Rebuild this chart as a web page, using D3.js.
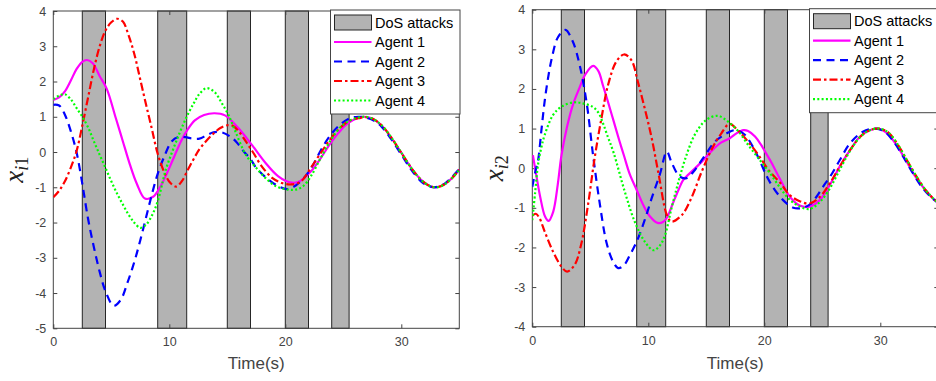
<!DOCTYPE html>
<html>
<head>
<meta charset="utf-8">
<script src="https://cdn.jsdelivr.net/npm/d3@7"></script>
<style>
  body { margin: 0; background: #fff; }
  svg { display: block; font-family: "Liberation Sans", Arial, sans-serif; }
</style>
</head>
<body>
<div id="chart"></div>
<script>
var width = 936, height = 381;

// ---- data ----
var timeTicks = [0, 10, 20, 30];
var x1Ticks = [-5, -4, -3, -2, -1, 0, 1, 2, 3, 4];
var x2Ticks = [-4, -3, -2, -1, 0, 1, 2, 3, 4];
var dosIntervals = [[2.5, 4.5], [9, 11.5], [15, 17], [20, 22], [24, 25.5]];
var legendNames = ["DoS attacks", "Agent 1", "Agent 2", "Agent 3", "Agent 4"];

// x_{i1}
var x1Agent1 = [[0,1.48],[0.5,1.55],[1,1.72],[1.5,2.02],[2,2.35],[2.5,2.56],[2.9,2.61],[3.4,2.52],[4,2.15],[4.6,1.8],[5.4,0.95],[6,0.3],[6.6,-0.35],[7.2,-0.9],[7.9,-1.32],[8.6,-1.27],[9.2,-1.0],[9.8,-0.6],[10.4,-0.15],[11,0.3],[11.6,0.65],[12.2,0.9],[13,1.05],[13.9,1.1],[14.8,1.04],[15.95,0.68],[17.1,0.21],[18.3,-0.31],[19.4,-0.69],[20.4,-0.86],[21.1,-0.85],[22.2,-0.55],[23,-0.2],[23.8,0.2],[24.6,0.55],[25.4,0.82],[26.2,0.96],[26.8,1.0],[27.5,0.95],[28.3,0.75],[29.1,0.42],[30,-0.02],[30.9,-0.47],[31.8,-0.82],[32.5,-0.97],[33.1,-1.0],[33.8,-0.9],[34.4,-0.73],[35,-0.5]];
var x1Agent2 = [[0,1.34],[0.5,1.32],[1,1.06],[1.5,0.6],[2,0.0],[2.5,-0.9],[3,-1.9],[3.5,-2.7],[4,-3.4],[4.5,-3.95],[5.2,-4.36],[5.8,-4.2],[6.4,-3.7],[7,-3.1],[7.5,-2.5],[8,-1.85],[8.5,-1.2],[9,-0.62],[9.6,-0.1],[10.2,0.3],[10.8,0.43],[11.4,0.42],[12,0.38],[12.6,0.38],[13.2,0.47],[13.8,0.56],[14.5,0.56],[15.2,0.45],[15.8,0.28],[16.4,0.02],[17,-0.2],[17.5,-0.45],[18.4,-0.74],[19.4,-0.97],[20.2,-1.05],[20.9,-0.95],[21.7,-0.7],[22.4,-0.36],[23.1,0.07],[23.8,0.44],[24.7,0.77],[25.6,0.96],[26.3,1.0],[27,0.97],[27.7,0.88],[28.3,0.72],[29.1,0.38],[30,-0.07],[30.9,-0.52],[31.8,-0.86],[32.5,-0.98],[33.1,-0.99],[33.8,-0.88],[34.4,-0.7],[35,-0.48]];
var x1Agent3 = [[0,-1.28],[0.5,-1.1],[1,-0.83],[1.5,-0.45],[2,0.02],[2.5,0.75],[3,1.55],[3.5,2.35],[4,3.0],[4.5,3.45],[5,3.68],[5.5,3.78],[6,3.7],[6.5,3.3],[7,2.76],[7.5,2.05],[8,1.34],[8.5,0.65],[9,-0.05],[9.6,-0.6],[10.1,-0.88],[10.6,-0.98],[11.1,-0.82],[11.6,-0.5],[12.1,-0.2],[12.6,0.08],[13.2,0.32],[13.8,0.52],[14.4,0.68],[15,0.76],[15.5,0.74],[16,0.58],[16.6,0.3],[17.2,0.0],[18,-0.42],[18.9,-0.74],[19.7,-0.88],[20.5,-0.92],[21.3,-0.85],[22.2,-0.45],[23.05,-0.03],[23.85,0.35],[24.7,0.68],[25.6,0.9],[26.5,0.97],[26.9,0.99],[27.5,0.95],[28.3,0.76],[29.1,0.43],[30,-0.02],[30.9,-0.47],[31.8,-0.82],[32.5,-0.97],[33.1,-1.0],[33.8,-0.9],[34.4,-0.73],[35,-0.5]];
var x1Agent4 = [[0,1.5],[0.5,1.6],[1,1.64],[1.5,1.5],[2,1.25],[2.5,1.0],[3,0.7],[3.5,0.3],[4,-0.08],[4.5,-0.45],[5,-0.83],[5.5,-1.18],[6,-1.49],[6.5,-1.78],[7,-2.01],[7.5,-2.15],[8,-2.06],[8.5,-1.8],[9,-1.4],[9.7,-0.5],[10.3,0.05],[10.9,0.55],[11.5,1.0],[12.1,1.38],[12.6,1.65],[13.2,1.81],[13.9,1.7],[14.5,1.4],[15.1,1.05],[15.7,0.58],[16.6,-0.08],[17.5,-0.45],[18.3,-0.74],[19.2,-0.97],[20.3,-1.07],[21,-1.06],[21.6,-0.95],[22.2,-0.69],[23.05,-0.17],[23.85,0.3],[24.7,0.68],[25.6,0.9],[26.5,0.99],[27,1.0],[27.5,0.95],[28.3,0.76],[29.1,0.43],[30,-0.02],[30.9,-0.47],[31.8,-0.82],[32.5,-0.97],[33.1,-1.0],[33.8,-0.9],[34.4,-0.73],[35,-0.5]];

// x_{i2}
var x2Agent1 = [[0.05,0.33],[0.3,-0.1],[0.7,-0.75],[1.1,-1.22],[1.4,-1.33],[1.8,-1.1],[2.2,-0.4],[2.5,0.3],[3,1.05],[3.5,1.6],[4,1.98],[4.6,2.38],[5.25,2.58],[5.7,2.45],[6.1,2.08],[6.5,1.7],[7,1.2],[7.5,0.7],[7.9,0.32],[8.4,-0.15],[9,-0.55],[9.6,-0.95],[10.15,-1.22],[10.8,-1.38],[11.3,-1.35],[11.6,-1.25],[12.1,-0.9],[12.6,-0.55],[13,-0.3],[13.5,-0.15],[14.6,0.16],[15.5,0.45],[16.3,0.65],[17,0.75],[17.6,0.88],[18.2,0.96],[18.6,0.94],[19.2,0.8],[19.7,0.6],[20.1,0.4],[20.6,0.15],[21.4,-0.3],[22.2,-0.72],[23.1,-0.95],[23.9,-0.97],[24.8,-0.8],[25.65,-0.42],[26.5,0.04],[27.4,0.46],[28.25,0.8],[29.1,0.96],[29.8,1.0],[30.6,0.88],[31.4,0.58],[32.2,0.2],[33,-0.2],[33.8,-0.52],[34.6,-0.78],[35,-0.86]];
var x2Agent2 = [[0,-0.47],[0.25,-0.1],[0.5,0.2],[0.8,1.0],[1.07,1.7],[1.4,2.35],[1.7,2.8],[2.2,3.3],[2.85,3.49],[3.5,3.19],[4.1,2.58],[4.68,1.66],[5.25,0.3],[5.82,-0.9],[6.4,-1.88],[6.95,-2.35],[7.4,-2.52],[7.9,-2.45],[8.4,-2.2],[9,-1.85],[9.7,-1.3],[10.3,-0.75],[11,-0.15],[11.6,0.42],[12,0.15],[12.7,-0.21],[13.3,-0.25],[14,-0.05],[14.9,0.33],[15.75,0.67],[16.76,0.88],[17.5,0.96],[18.3,0.85],[19,0.55],[19.6,0.2],[20.2,-0.2],[20.8,-0.5],[21.6,-0.8],[22.5,-1.0],[23.3,-1.0],[24,-0.9],[24.5,-0.72],[25.1,-0.45],[25.7,-0.2],[26.5,0.2],[27.4,0.63],[28.5,0.92],[29.6,1.0],[30.4,0.92],[31.2,0.65],[32,0.28],[32.8,-0.12],[33.6,-0.48],[34.4,-0.74],[35,-0.88]];
var x2Agent3 = [[0,-1.2],[0.3,-1.15],[0.6,-1.25],[1.07,-1.6],[1.78,-2.1],[2.5,-2.48],[3,-2.61],[3.65,-2.44],[4.2,-1.94],[4.8,-0.93],[5.37,0.25],[5.96,1.26],[6.53,2.1],[7.24,2.69],[7.9,2.87],[8.54,2.73],[9.1,2.18],[9.7,1.5],[10.3,0.75],[10.9,-0.17],[11.6,-1.18],[12,-1.35],[12.9,-1.18],[13.7,-0.76],[14.6,-0.09],[15.5,0.5],[16.3,0.88],[17,1.12],[17.7,0.96],[18.6,0.67],[19.5,0.33],[20.4,-0.06],[21.4,-0.38],[22.2,-0.68],[23.1,-0.84],[23.9,-0.89],[24.8,-0.72],[25.65,-0.38],[26.5,0.04],[27.4,0.46],[28.3,0.8],[29.1,0.96],[29.9,1.0],[30.7,0.9],[31.5,0.6],[32.3,0.2],[33.1,-0.2],[33.9,-0.55],[34.7,-0.8],[35,-0.86]];
var x2Agent4 = [[0,-1.31],[0.25,-0.6],[0.49,0.08],[0.8,0.55],[1.07,0.84],[1.78,1.34],[2.5,1.55],[3.5,1.66],[4.3,1.64],[5.2,1.55],[5.7,1.4],[6.1,1.13],[6.5,0.8],[7,0.4],[7.97,-0.59],[8.83,-1.35],[9.69,-1.85],[10.43,-2.07],[11,-1.95],[11.44,-1.69],[12,-1.01],[12.6,-0.34],[13.2,0.25],[14,0.84],[15,1.22],[16,1.32],[16.9,1.17],[17.8,0.92],[18.6,0.59],[19.5,0.25],[20.5,-0.13],[21.4,-0.51],[22.2,-0.8],[23.1,-0.97],[23.9,-1.03],[24.8,-0.85],[25.65,-0.51],[26.5,-0.04],[27.4,0.44],[28.3,0.8],[29.1,0.96],[29.9,1.0],[30.7,0.9],[31.5,0.6],[32.3,0.2],[33.1,-0.2],[33.9,-0.55],[34.7,-0.8],[35,-0.86]];

// ---- styles ----
var agentStyles = [
  { color: "#ff00ff", dash: null },
  { color: "#0000ff", dash: "8,5.5" },
  { color: "#ff0000", dash: "8,3,2.5,3" },
  { color: "#00ff00", dash: "2,2.3" }
];
var axisColor = "#444";

var svg = d3.select("#chart").append("svg").attr("width", width).attr("height", height);

var panels = [
  { id: "p1", left: 53.3, right: 459.3, top: 11, bottom: 328.3, yDomain: [-5, 4], yTicks: x1Ticks,
    sub: "1", labelX: 18, series: [x1Agent1, x1Agent2, x1Agent3, x1Agent4] },
  { id: "p2", left: 532.3, right: 938.3, top: 9.7, bottom: 326.7, yDomain: [-4, 4], yTicks: x2Ticks,
    sub: "2", labelX: 498, series: [x2Agent1, x2Agent2, x2Agent3, x2Agent4] }
];

panels.forEach(function(p) {
  var x = d3.scaleLinear().domain([0, 35]).range([p.left, p.right]);
  var y = d3.scaleLinear().domain(p.yDomain).range([p.bottom, p.top]);

  svg.append("clipPath").attr("id", "clip-" + p.id)
    .append("rect")
      .attr("x", p.left).attr("y", p.top)
      .attr("width", p.right - p.left).attr("height", p.bottom - p.top);

  var g = svg.append("g");

  // DoS attack intervals
  g.selectAll("rect.dos")
    .data(dosIntervals)
    .enter().append("rect")
      .attr("class", "dos")
      .attr("x", function(d) { return x(d[0]); })
      .attr("y", p.top)
      .attr("width", function(d) { return x(d[1]) - x(d[0]); })
      .attr("height", p.bottom - p.top)
      .attr("fill", "#b3b3b3")
      .attr("stroke", "#262626")
      .attr("stroke-width", 1);

  // axes with mirrored inward ticks
  var axisG = [
    g.append("g").attr("transform", "translate(0," + p.bottom + ")")
      .call(d3.axisBottom(x).tickValues(timeTicks).tickSize(-4).tickPadding(9)),
    g.append("g").attr("transform", "translate(0," + p.top + ")")
      .call(d3.axisTop(x).tickValues(timeTicks).tickSize(-4).tickFormat("")),
    g.append("g").attr("transform", "translate(" + p.left + ",0)")
      .call(d3.axisLeft(y).tickValues(p.yTicks).tickSize(-4).tickPadding(7).tickFormat(d3.format("d"))),
    g.append("g").attr("transform", "translate(" + p.right + ",0)")
      .call(d3.axisRight(y).tickValues(p.yTicks).tickSize(-4).tickFormat(""))
  ];
  axisG.forEach(function(a) {
    a.select(".domain").remove();
    a.selectAll(".tick line").attr("stroke", axisColor);
    a.selectAll(".tick text").attr("fill", axisColor).style("font-size", "12.5px")
      .style("font-family", "'Liberation Sans', Arial, sans-serif")
      .text(function() { return d3.select(this).text().replace("\u2212", "-"); });
  });

  g.append("rect")
    .attr("x", p.left).attr("y", p.top)
    .attr("width", p.right - p.left).attr("height", p.bottom - p.top)
    .attr("fill", "none").attr("stroke", axisColor).attr("stroke-width", 1);

  // agent trajectories
  var line = d3.line()
    .x(function(d) { return x(d[0]); })
    .y(function(d) { return y(d[1]); })
    .curve(d3.curveCatmullRom.alpha(0.5));

  g.append("g").attr("clip-path", "url(#clip-" + p.id + ")")
    .selectAll("path")
    .data(p.series)
    .enter().append("path")
      .attr("d", line)
      .attr("fill", "none")
      .attr("stroke", function(d, i) { return agentStyles[i].color; })
      .attr("stroke-width", 2.2)
      .attr("stroke-dasharray", function(d, i) { return agentStyles[i].dash; });

  // x label
  g.append("text")
    .attr("x", (p.left + p.right) / 2)
    .attr("y", 369)
    .attr("text-anchor", "middle")
    .attr("fill", axisColor)
    .style("font-size", "17px")
    .text("Time(s)");

  // y label  x_{i1} / x_{i2}
  var yl = g.append("text")
    .attr("transform", "translate(" + p.labelX + "," + ((p.top + p.bottom) / 2) + ") rotate(-90)")
    .attr("text-anchor", "middle")
    .attr("dy", "0.3em")
    .attr("fill", "#222")
    .style("font-family", "'Liberation Serif', 'DejaVu Serif', serif");
  yl.append("tspan").style("font-style", "italic").style("font-size", "27px").text("x");
  yl.append("tspan").style("font-style", "italic").style("font-size", "18px").attr("dy", 5).text("i");
  yl.append("tspan").style("font-size", "18px").text(p.sub);

  // legend
  var lgW = 129.5, lgX = p.right + 0.7 - lgW, lgY = p.top - 1;
  var lg = g.append("g").attr("transform", "translate(" + lgX + "," + lgY + ")");
  lg.append("rect")
    .attr("width", lgW).attr("height", 104)
    .attr("fill", "#fff").attr("stroke", axisColor).attr("stroke-width", 1);

  var rows = lg.selectAll("g.row")
    .data(legendNames)
    .enter().append("g")
      .attr("class", "row")
      .attr("transform", function(d, i) { return "translate(0," + (12.5 + i * 19.5) + ")"; });

  rows.each(function(d, i) {
    var r = d3.select(this);
    if (i === 0) {
      r.append("rect").attr("x", 4).attr("y", -7.5).attr("width", 37).attr("height", 15)
        .attr("fill", "#b3b3b3").attr("stroke", "#262626").attr("stroke-width", 1);
    } else {
      var s = agentStyles[i - 1];
      r.append("line").attr("x1", 3.5).attr("x2", 41).attr("y1", 0).attr("y2", 0)
        .attr("stroke", s.color).attr("stroke-width", 2.2).attr("stroke-dasharray", s.dash);
    }
    r.append("text").attr("x", 44.5).attr("dy", "0.36em")
      .style("font-size", "14.5px").attr("fill", "#000").text(d);
  });
});
</script>
</body>
</html>
